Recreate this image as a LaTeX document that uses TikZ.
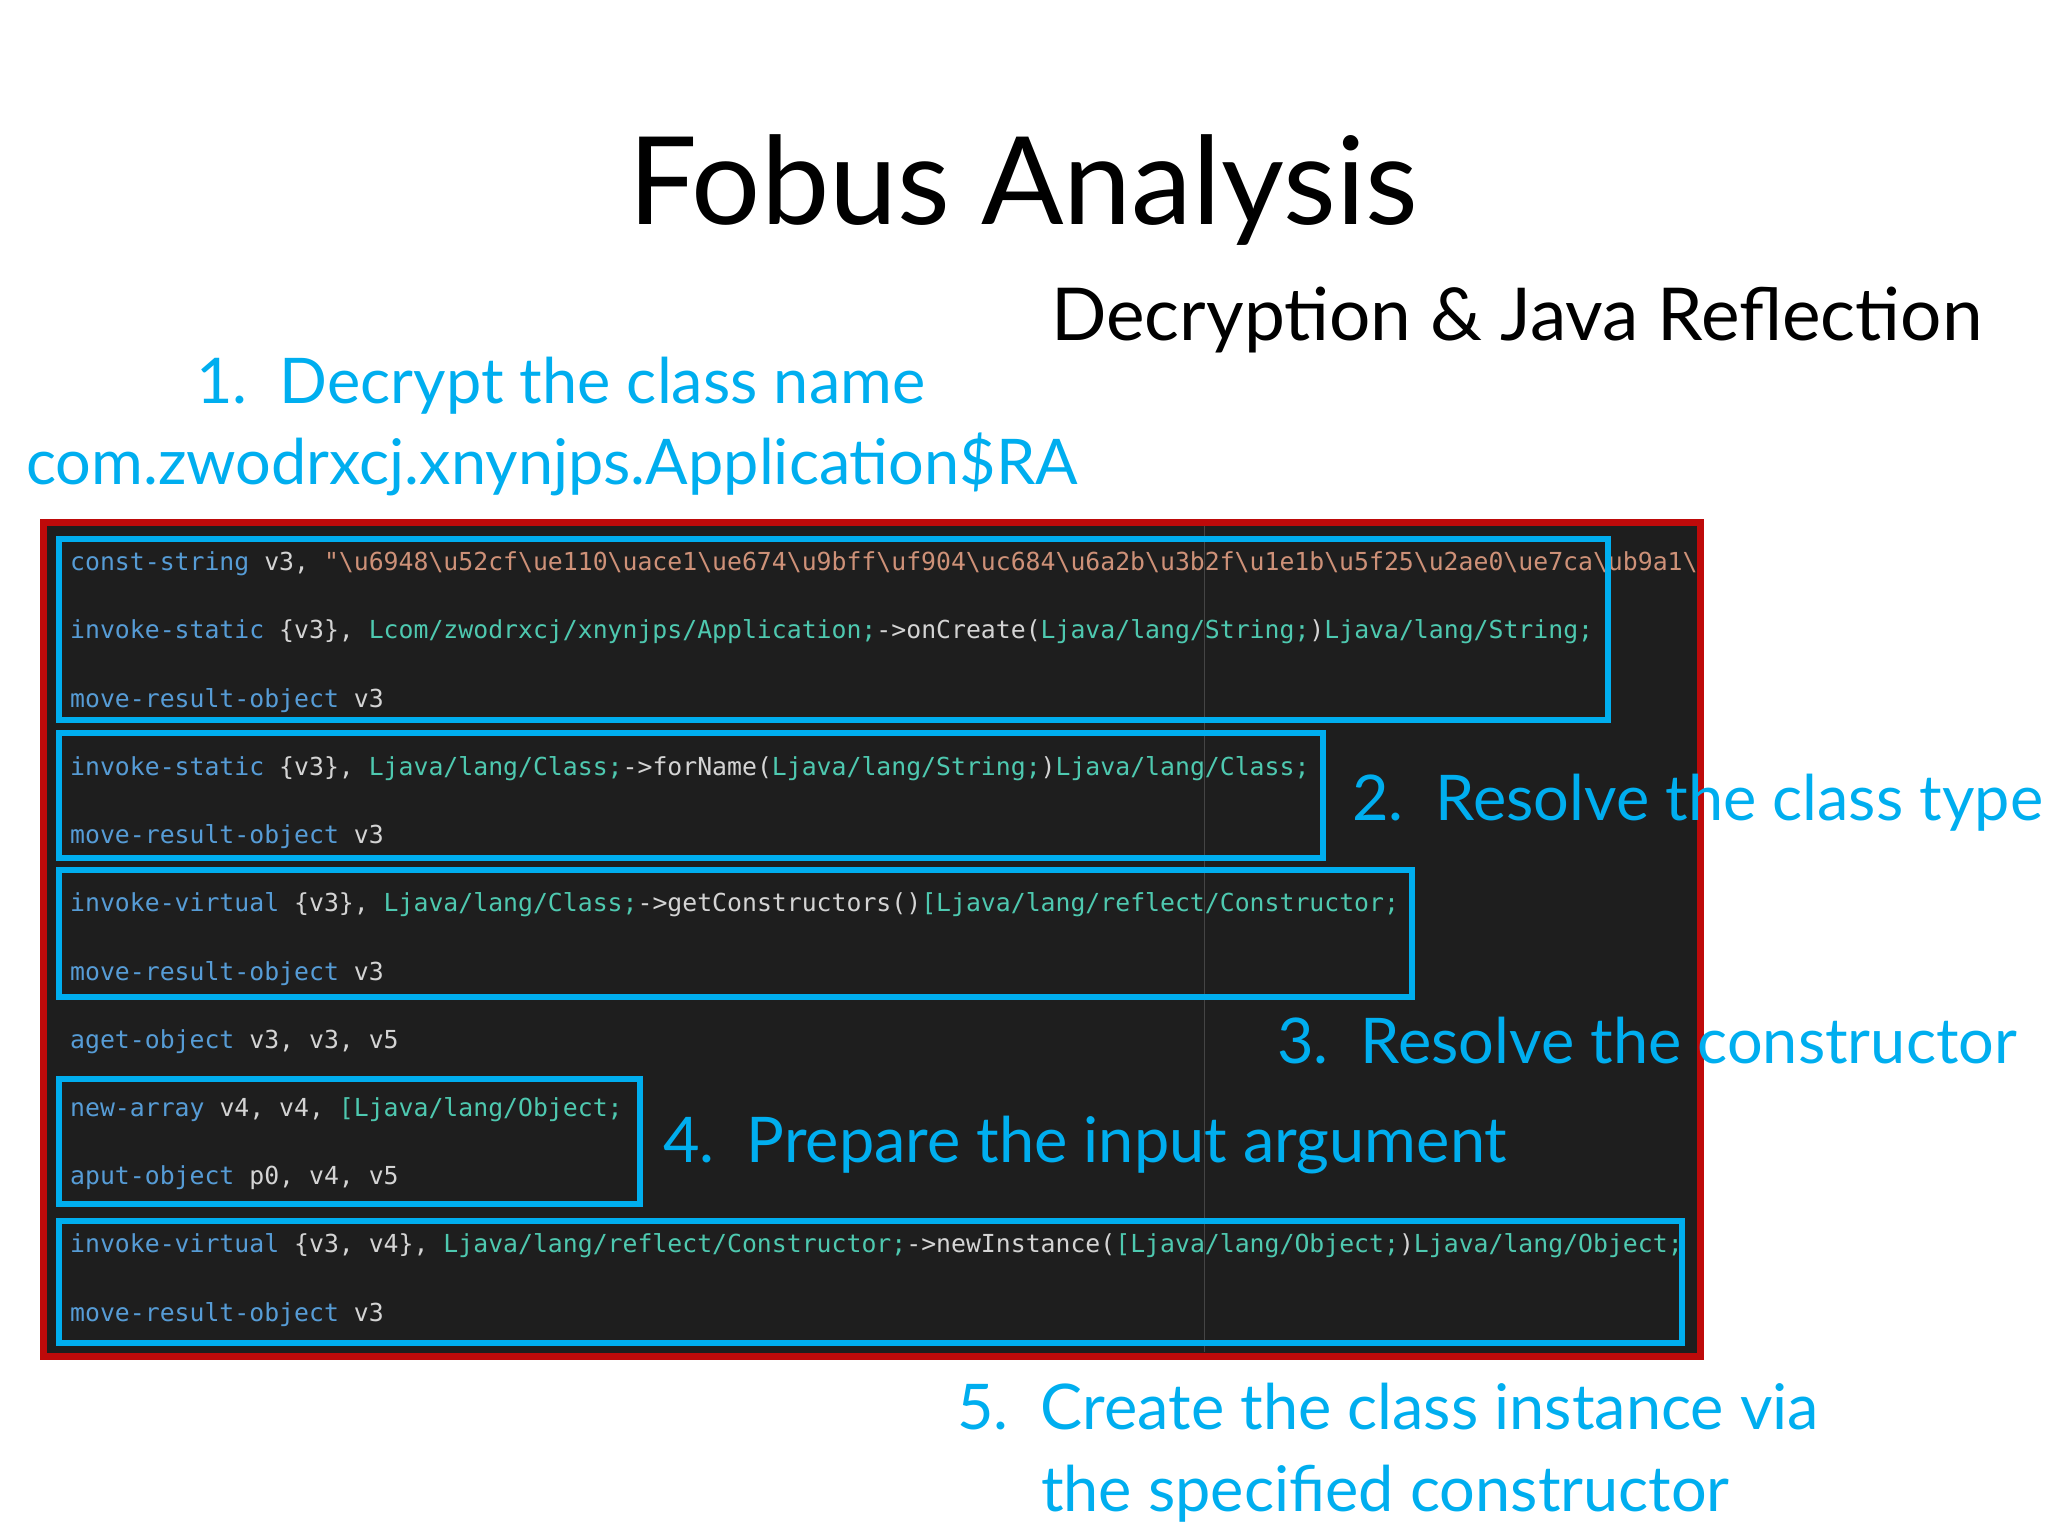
\documentclass[tikz,border=0pt]{standalone}
\usepackage{fontspec}
\setmainfont{Lato}
\newfontfamily\codefont{DejaVu Sans Mono}
\definecolor{cy}{RGB}{0,174,239}
\definecolor{bg}{RGB}{30,30,30}
\definecolor{rd}{RGB}{190,10,10}
\definecolor{kw}{RGB}{86,156,214}
\definecolor{st}{RGB}{206,145,120}
\definecolor{ty}{RGB}{78,201,176}
\definecolor{pl}{RGB}{212,212,212}
\newcommand{\K}[1]{\textcolor{kw}{#1}}
\newcommand{\Sg}[1]{\textcolor{st}{#1}}
\newcommand{\T}[1]{\textcolor{ty}{#1}}
\newcommand{\bsl}{\textbackslash}
\tikzset{
 code/.style={anchor=base west,inner sep=0,text=pl,font=\codefont\fontsize{24.8}{28}\selectfont},
 lab/.style={anchor=base west,inner sep=0,text=cy,font=\fontsize{63}{68}\selectfont},
 bbox/.style={draw=cy,line width=6pt},
}
\begin{document}
\begin{tikzpicture}[x=1pt,y=-1pt]
\useasboundingbox (0,0) rectangle (2048,1536);
\node[inner sep=0,font=\fontsize{122}{130}\selectfont] (title) at (1023,190) {Fobus Analysis};
\node[anchor=base west,inner sep=0,font=\fontsize{73}{76}\selectfont] (sub) at (1051,340) {Decryption \& Java Reflection};
\node[lab] (l1) at (196,403) {1.\ \ Decrypt the class name};
\node[lab] (l1b) at (26,484) {com.zwodrxcj.xnynjps.Application\$RA};
\draw[rd,line width=7pt,fill=bg] (43,522) rectangle (1700,1356);
\draw[gray!40!bg,line width=1pt] (1204,526) -- (1204,1352);
\begin{scope}
\clip (47,526) rectangle (1696,1352);
\node[code] (c1) at (70,570) {\K{const-string} v3, \Sg{"\bsl u6948\bsl u52cf\bsl ue110\bsl uace1\bsl ue674\bsl u9bff\bsl uf904\bsl uc684\bsl u6a2b\bsl u3b2f\bsl u1e1b\bsl u5f25\bsl u2ae0\bsl ue7ca\bsl ub9a1\bsl}};
\end{scope}
\node[code] (c2) at (70,638) {\K{invoke-static} \{v3\}, \T{Lcom/zwodrxcj/xnynjps/Application;}->onCreate(\T{Ljava/lang/String;})\T{Ljava/lang/String;}};
\node[code] (c3) at (70,707) {\K{move-result-object} v3};
\node[code] (c4) at (70,775) {\K{invoke-static} \{v3\}, \T{Ljava/lang/Class;}->forName(\T{Ljava/lang/String;})\T{Ljava/lang/Class;}};
\node[code] (c5) at (70,843) {\K{move-result-object} v3};
\node[code] (c6) at (70,911) {\K{invoke-virtual} \{v3\}, \T{Ljava/lang/Class;}->getConstructors()\T{[Ljava/lang/reflect/Constructor;}};
\node[code] (c7) at (70,980) {\K{move-result-object} v3};
\node[code] (c8) at (70,1048) {\K{aget-object} v3, v3, v5};
\node[code] (c9) at (70,1116) {\K{new-array} v4, v4, \T{[Ljava/lang/Object;}};
\node[code] (c10) at (70,1184) {\K{aput-object} p0, v4, v5};
\node[code] (c11) at (70,1252) {\K{invoke-virtual} \{v3, v4\}, \T{Ljava/lang/reflect/Constructor;}->newInstance(\T{[Ljava/lang/Object;})\T{Ljava/lang/Object;}};
\node[code] (c12) at (70,1321) {\K{move-result-object} v3};
\draw[bbox] (59,539) rectangle (1608,720);
\draw[bbox] (59,733) rectangle (1323,858);
\draw[bbox] (59,870) rectangle (1412,997);
\draw[bbox] (59,1079) rectangle (640,1204);
\draw[bbox] (59,1221) rectangle (1682,1343);
\node[lab] (l2) at (1352,820) {2.\ \ Resolve the class type};
\node[lab] (l3) at (1277,1063) {3.\ \ Resolve the constructor};
\node[lab] (l4) at (663,1162) {4.\ \ Prepare the input argument};
\node[lab] (l5) at (957,1429) {5.\ \ Create the class instance via};
\node[lab] (l5b) at (1041,1511) {the specified constructor};
\end{tikzpicture}
\end{document}
